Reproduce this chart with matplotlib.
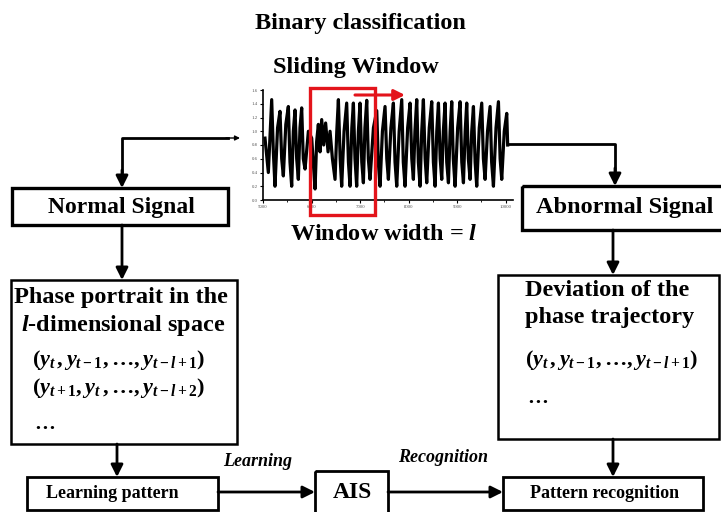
import matplotlib
matplotlib.use("Agg")
import matplotlib.pyplot as plt
from matplotlib.patches import Rectangle

plt.rcParams['font.family'] = ['Liberation Serif', 'DejaVu Serif']
plt.rcParams['mathtext.fontset'] = 'custom'
plt.rcParams['mathtext.rm'] = 'Liberation Serif:bold'
plt.rcParams['mathtext.it'] = 'Liberation Serif:bold:italic'
plt.rcParams['mathtext.bf'] = 'Liberation Serif:bold'

# signal (time, amplitude)
sig_t = [5041, 5110, 5179, 5213, 5247, 5300, 5350, 5385, 5419, 5470, 5522, 5556,
         5591, 5625, 5660, 5694, 5728, 5762, 5797, 5830, 5866, 5935, 6003, 6040,
         6072, 6105, 6140, 6175, 6209, 6250, 6290, 6340, 6381, 6430, 6484, 6520,
         6553, 6590, 6621, 6670, 6724, 6760, 6793, 6830, 6862, 6895, 6930, 6965,
         6999, 7035, 7068, 7100, 7137, 7170, 7205, 7275, 7343, 7375, 7411, 7460,
         7514, 7550, 7583, 7635, 7686, 7720, 7755, 7805, 7858, 7890, 7926, 7980,
         8030, 8065, 8098, 8130, 8167, 8200, 8236, 8270, 8304, 8340, 8373, 8425,
         8476, 8510, 8545, 8580, 8614, 8650, 8682, 8715, 8751, 8785, 8820, 8855,
         8888, 8920, 8957, 9010, 9060, 9095, 9129, 9165, 9197, 9230, 9266, 9300,
         9335, 9370, 9403, 9455, 9506, 9540, 9575, 9625, 9678, 9710, 9747, 9800,
         9850, 9885, 9918, 9970, 10021, 10040]
sig_y = [0.90, 0.40, 1.46, 0.70, 0.20, 1.05, 1.29, 0.60, 0.35, 1.10, 1.36, 0.55,
         0.20, 1.00, 1.31, 0.60, 0.30, 1.05, 1.34, 0.60, 0.45, 1.00, 0.90, 0.50,
         0.16, 0.85, 1.10, 0.70, 1.17, 0.80, 1.12, 0.70, 1.00, 0.60, 0.30, 1.00,
         1.46, 0.60, 0.20, 1.00, 1.41, 0.55, 0.20, 1.05, 1.41, 0.60, 0.20, 1.00,
         1.41, 0.55, 0.25, 1.05, 1.45, 0.60, 0.30, 1.05, 1.30, 0.55, 0.20, 1.00,
         1.36, 0.60, 0.30, 1.05, 1.41, 0.55, 0.20, 1.00, 1.46, 0.55, 0.20, 1.05,
         1.41, 0.60, 0.30, 1.00, 1.46, 0.55, 0.20, 1.00, 1.46, 0.60, 0.25, 1.05,
         1.43, 0.55, 0.20, 1.00, 1.41, 0.60, 0.30, 1.00, 1.41, 0.55, 0.25, 1.00,
         1.43, 0.60, 0.20, 1.05, 1.43, 0.55, 0.25, 1.00, 1.41, 0.60, 0.30, 1.00,
         1.36, 0.55, 0.20, 1.05, 1.41, 0.60, 0.30, 1.00, 1.36, 0.55, 0.20, 1.05,
         1.43, 0.60, 0.30, 1.00, 1.26, 0.80]
x_ticks = [5000, 6000, 7000, 8000, 9000, 10000]
y_ticks = [0.0, 0.2, 0.4, 0.6, 0.8, 1.0, 1.2, 1.4, 1.6]

W, H = 721, 512
fig = plt.figure(figsize=(7.21, 5.12), dpi=100)

# signal inset
sx0, sx1, sy0, sy1 = 263, 513, 90, 200
ax = fig.add_axes([sx0 / W, 1 - sy1 / H, (sx1 - sx0) / W, (sy1 - sy0) / H])
ax.plot(sig_t, sig_y, color='black', lw=2.3)
ax.set_xlim(5000, 10150)
ax.set_ylim(0, 1.6)
ax.set_xticks(x_ticks)
ax.set_xticklabels([str(v) for v in x_ticks], fontsize=3.5, color='#555555')
ax.set_xticks(range(5500, 10000, 1000), minor=True)
ax.set_yticks(y_ticks)
ax.set_yticklabels(['%.1f' % v for v in y_ticks], fontsize=3.5, color='#555555')
ax.tick_params(length=2, width=0.8, pad=1.5)
ax.tick_params(which='minor', length=1.5, width=0.6)
for s in ['top', 'right']:
    ax.spines[s].set_visible(False)
for s in ['left', 'bottom']:
    ax.spines[s].set_linewidth(1.2)
ax.patch.set_alpha(0)

# overlay in pixel coordinates
ov = fig.add_axes([0, 0, 1, 1])
ov.set_xlim(0, W)
ov.set_ylim(H, 0)
ov.axis('off')


def box(x0, y0, x1, y1, lw=2.0):
    ov.add_patch(Rectangle((x0, y0), x1 - x0, y1 - y0, fill=False,
                           edgecolor='black', lw=lw, clip_on=False))


def arrow(x0, y0, x1, y1, color='black', lw=2.0, ms=18):
    ov.annotate('', xy=(x1, y1), xytext=(x0, y0),
                arrowprops=dict(arrowstyle='-|>', color=color, lw=lw,
                                mutation_scale=ms, shrinkA=0, shrinkB=0))


bold = dict(fontweight='bold', color='black')

ov.text(360, 23, 'Binary classification', fontsize=17.5, ha='center', va='center', **bold)
ov.text(356, 68, 'Sliding Window', fontsize=17.5, ha='center', va='center', **bold)
ov.text(290, 234, 'Window width = $l$', fontsize=17.5, ha='left', va='center', **bold)

# sliding window
ov.add_patch(Rectangle((310, 88), 65, 127, fill=False, edgecolor='#e3141b', lw=2.4))
arrow(355, 95, 405, 95, color='#e3141b', lw=2.2, ms=16)

# connectors from the signal
ov.plot([228, 122, 122], [138, 138, 172], color='black', lw=2)
arrow(122, 170, 122, 188)
arrow(226, 138, 240, 138, lw=1, ms=7)
ov.plot([508, 615, 615], [144, 144, 170], color='black', lw=2)
arrow(615, 168, 615, 186)

# left column
box(12, 188, 228, 225, lw=2.4)
ov.text(121, 207, 'Normal Signal', fontsize=17, ha='center', va='center', **bold)
arrow(122, 225, 122, 280)
box(11, 280, 237, 444, lw=1.8)
ov.text(121, 298, 'Phase portrait in the', fontsize=17.5, ha='center', va='center', **bold)
ov.text(123, 326, '$l$-dimensional space', fontsize=17.5, ha='center', va='center', **bold)
ov.text(32, 360, r'$(y_t\,, y_{t-1}, \ldots, y_{t-l+1})$', fontsize=16, ha='left', va='center')
ov.text(32, 388, r'$(y_{t+1}, y_t\,, \ldots, y_{t-l+2})$', fontsize=16, ha='left', va='center')
ov.text(34, 424, '\u2026', fontsize=15, ha='left', va='center', **bold)
arrow(117, 444, 117, 477)

# right column
box(522, 186, 730, 230, lw=2.4)
ov.text(625, 208, 'Abnormal Signal', fontsize=17.5, ha='center', va='center', **bold)
arrow(613, 230, 613, 275)
box(498, 275, 719, 439, lw=1.8)
ov.text(525, 291, 'Deviation of the', fontsize=17.5, ha='left', va='center', **bold)
ov.text(525, 318, 'phase trajectory', fontsize=17.5, ha='left', va='center', **bold)
ov.text(525, 360, r'$(y_t\,, y_{t-1}, \ldots, y_{t-l+1})$', fontsize=16, ha='left', va='center')
ov.text(527, 398, '\u2026', fontsize=15, ha='left', va='center', **bold)
arrow(613, 439, 613, 477)

# bottom row
box(27, 477, 218, 510, lw=2.0)
ov.text(112, 493, 'Learning pattern', fontsize=13, ha='center', va='center', **bold)
arrow(218, 492, 315, 492)
ov.text(258, 462, 'Learning', fontsize=13, ha='center', va='center', style='italic', **bold)
box(315, 471, 388, 515, lw=2.0)
ov.text(352, 492, 'AIS', fontsize=17, ha='center', va='center', **bold)
arrow(388, 492, 503, 492)
ov.text(443, 457, 'Recognition', fontsize=13, ha='center', va='center', style='italic', **bold)
box(503, 477, 703, 510, lw=2.0)
ov.text(605, 493, 'Pattern recognition', fontsize=13, ha='center', va='center', **bold)

fig.savefig('out.png', dpi=100)
